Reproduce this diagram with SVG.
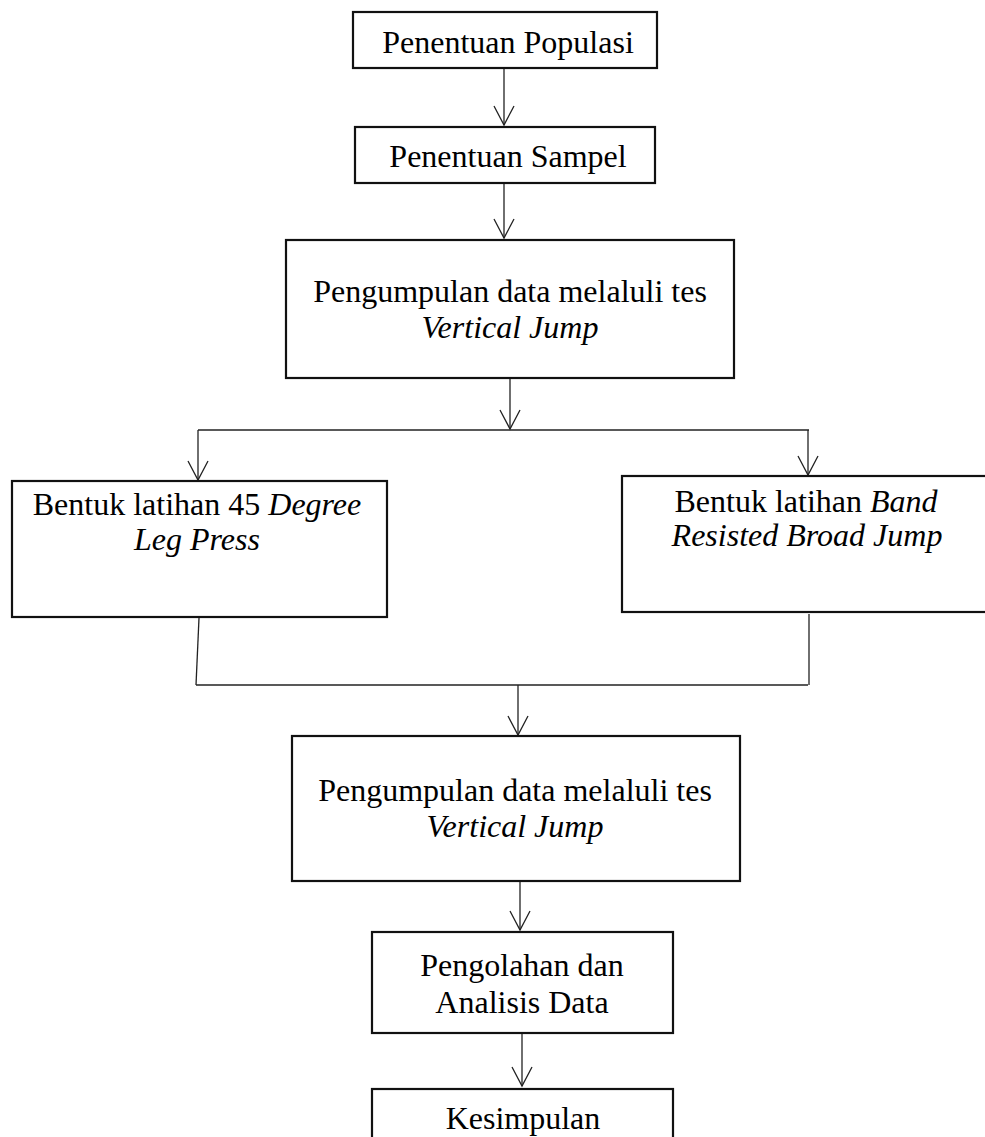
<svg xmlns="http://www.w3.org/2000/svg" width="985" height="1137" viewBox="0 0 985 1137">
<defs>
<style>
.box{fill:#fff;stroke:#111;stroke-width:2.2}
.t{font-family:"Liberation Serif","Times New Roman",serif;font-size:32px;fill:#000;text-anchor:middle}
.i{font-style:italic}
.c{fill:none;stroke:#222;stroke-width:1.3}
</style>
<marker id="ah" markerUnits="userSpaceOnUse" markerWidth="24" markerHeight="24" viewBox="-12 -2 24 24" refX="0" refY="0" orient="auto" overflow="visible">
<path d="M-19,-10 L0,0 L-19,10" fill="none" stroke="#222" stroke-width="1.3"/>
</marker>
</defs>
<rect width="985" height="1137" fill="#fff"/>
<g id="connectors">
<line class="c" x1="504" y1="69" x2="504" y2="125" marker-end="url(#ah)"/>
<line class="c" x1="504" y1="184" x2="504" y2="238" marker-end="url(#ah)"/>
<line class="c" x1="510" y1="379" x2="510" y2="429" marker-end="url(#ah)"/>
<line class="c" x1="198" y1="430" x2="809" y2="430"/>
<line class="c" x1="198" y1="430" x2="198" y2="480" marker-end="url(#ah)"/>
<line class="c" x1="808" y1="430" x2="808" y2="475" marker-end="url(#ah)"/>
<line class="c" x1="199" y1="618" x2="196" y2="685"/>
<line class="c" x1="809" y1="614" x2="809" y2="685"/>
<line class="c" x1="196" y1="685" x2="808" y2="685"/>
<line class="c" x1="518" y1="685" x2="518" y2="735" marker-end="url(#ah)"/>
<line class="c" x1="520" y1="882" x2="520" y2="930" marker-end="url(#ah)"/>
<line class="c" x1="522" y1="1034" x2="522" y2="1086" marker-end="url(#ah)"/>
</g>
<g id="n1">
<rect class="box" x="353" y="12" width="304" height="56"/>
<text class="t" x="508" y="53">Penentuan Populasi</text>
</g>
<g id="n2">
<rect class="box" x="355" y="127" width="300" height="56"/>
<text class="t" x="508" y="167">Penentuan Sampel</text>
</g>
<g id="n3">
<rect class="box" x="286" y="240" width="448" height="138"/>
<text class="t" x="510" y="302">Pengumpulan data melaluli tes</text>
<text class="t i" x="510" y="338">Vertical Jump</text>
</g>
<g id="n4">
<rect class="box" x="12" y="481" width="375" height="136"/>
<text class="t" x="197" y="515">Bentuk latihan 45 <tspan class="i">Degree</tspan></text>
<text class="t i" x="197" y="550">Leg Press</text>
</g>
<g id="n5">
<rect class="box" x="622" y="476" width="366" height="136"/>
<text class="t" x="806" y="512">Bentuk latihan <tspan class="i">Band</tspan></text>
<text class="t i" x="807" y="546">Resisted Broad Jump</text>
</g>
<g id="n6">
<rect class="box" x="292" y="736" width="448" height="145"/>
<text class="t" x="515" y="801">Pengumpulan data melaluli tes</text>
<text class="t i" x="515" y="837">Vertical Jump</text>
</g>
<g id="n7">
<rect class="box" x="372" y="932" width="301" height="101"/>
<text class="t" x="522" y="976">Pengolahan dan</text>
<text class="t" x="522" y="1013">Analisis Data</text>
</g>
<g id="n8">
<rect class="box" x="372" y="1089" width="301" height="60"/>
<text class="t" x="523" y="1129">Kesimpulan</text>
</g>
</svg>
